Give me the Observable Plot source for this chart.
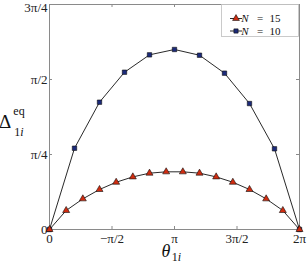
<!DOCTYPE html>
<html><head><meta charset="utf-8">
<script src="https://cdn.jsdelivr.net/npm/d3@7"></script>
<script src="https://cdn.jsdelivr.net/npm/@observablehq/plot@0.6"></script>
<style>body{margin:0;background:#fff} svg{display:block}</style>
</head><body><div id="chart"></div>
<script>
const PI = Math.PI;
// x positions in units of π
const thetaN10 = [0, 0.2, 0.4, 0.6, 0.8, 1.0, 1.2, 1.4, 1.6, 1.8, 2.0];
const deltaN10 = [0, 0.851, 1.333, 1.647, 1.829, 1.885, 1.825, 1.637, 1.319, 0.845, 0];
const thetaN15 = [0, 0.1333, 0.2667, 0.4, 0.5333, 0.6667, 0.8, 0.9333, 1.0667, 1.2, 1.3333, 1.4667, 1.6, 1.7333, 1.8667, 2.0];
const deltaN15 = [0, 0.199, 0.321, 0.419, 0.495, 0.551, 0.590, 0.604, 0.604, 0.590, 0.551, 0.495, 0.419, 0.321, 0.199, 0];
const xTicks = [0, 0.5, 1, 1.5, 2];
const xTickLabels = ["0", "\u2212\u03c0/2", "\u03c0", "3\u03c0/2", "2\u03c0"];
const yTicksPi = [0, 0.25, 0.5, 0.75];
const yTickLabels = ["0", "\u03c0/4", "\u03c0/2", "3\u03c0/4"];
const seriesNames = ["N = 15", "N = 10"];

const yTicks = yTicksPi.map(v => v * PI);
const n10 = thetaN10.map((t, i) => ({t, d: deltaN10[i]}));
const n15 = thetaN15.map((t, i) => ({t, d: deltaN15[i]}));
const xLab = new Map(xTicks.map((v, i) => [v, xTickLabels[i]]));
const yLab = new Map(yTicks.map((v, i) => [v, yTickLabels[i]]));
const axisCol = "#8a8a8a";
const red = "#cf2c10", blue = "#1b2a7a";

const plot = Plot.plot({
  width: 307, height: 268,
  marginLeft: 49, marginRight: 8, marginTop: 4, marginBottom: 39,
  style: {fontFamily: "'Liberation Serif', serif", fontSize: "13px", color: "#222", background: "#fff"},
  x: {domain: [0, 2], axis: null},
  y: {domain: [0, 0.75 * PI], axis: null},
  marks: [
    Plot.frame({stroke: axisCol}),
    Plot.tickX(xTicks, {x: d => d, insetTop: 222, stroke: axisCol}),
    Plot.tickX(xTicks, {x: d => d, insetBottom: 222, stroke: axisCol}),
    Plot.tickY(yTicks, {y: d => d, insetRight: 247, stroke: axisCol}),
    Plot.tickY(yTicks, {y: d => d, insetLeft: 247, stroke: axisCol}),
    Plot.axisX(xTicks, {tickSize: 0, tickPadding: 4, tickFormat: d => xLab.get(d), label: null, fontSize: 13}),
    Plot.axisY(yTicks.slice(0, 3), {tickSize: 0, tickPadding: 2, tickFormat: d => yLab.get(d), label: null, fontSize: 13}),
    Plot.axisY(yTicks.slice(3), {tickSize: 0, tickPadding: 2, tickFormat: d => yLab.get(d), label: null, fontSize: 13, dy: 3}),
    Plot.line(n10, {x: "t", y: "d", stroke: "#111", strokeWidth: 0.9}),
    Plot.line(n15, {x: "t", y: "d", stroke: "#111", strokeWidth: 0.9}),
    Plot.dot(n10, {x: "t", y: "d", symbol: "square", r: 2.5, fill: blue, stroke: "#111", strokeWidth: 0.6}),
    Plot.dot(n15, {x: "t", y: "d", symbol: "triangle", r: 2.6, fill: red, stroke: "#111", strokeWidth: 0.6})
  ]
});
document.getElementById("chart").appendChild(plot);

const svg = d3.select(plot);
const serif = "'Liberation Serif', serif";
// y label Δ^eq_{1i}
const yl = svg.append("g").attr("font-family", serif).attr("fill", "#111");
yl.append("text").attr("x", 5).attr("y", 128).attr("font-size", 19).text("\u0394");
yl.append("text").attr("x", 19).attr("y", 115).attr("font-size", 12).text("eq");
const sub = yl.append("text").attr("x", 19).attr("y", 136).attr("font-size", 12);
sub.append("tspan").text("1");
sub.append("tspan").attr("font-style", "italic").text("i");
// x label θ_{1i}
const xl = svg.append("g").attr("font-family", serif).attr("fill", "#111");
xl.append("text").attr("x", 166).attr("y", 257).attr("font-size", 18).attr("font-style", "italic").text("\u03b8");
const xs = xl.append("text").attr("x", 176.5).attr("y", 261).attr("font-size", 12);
xs.append("tspan").text("1");
xs.append("tspan").attr("font-style", "italic").text("i");
// legend
const lg = svg.append("g").attr("font-family", serif).attr("fill", "#111");
lg.append("rect").attr("x", 221.5).attr("y", 4.5).attr("width", 77).attr("height", 32).attr("fill", "#fff").attr("stroke", "#bdbdbd").attr("stroke-width", 0.8);
const rows = [{y: 18.5, sym: d3.symbolTriangle, fill: red, size: 20}, {y: 31, sym: d3.symbolSquare, fill: blue, size: 18}];
rows.forEach((r, i) => {
  lg.append("line").attr("x1", 230).attr("x2", 242).attr("y1", r.y).attr("y2", r.y).attr("stroke", "#111").attr("stroke-width", 0.9);
  lg.append("path").attr("d", d3.symbol(r.sym, r.size)()).attr("transform", `translate(236,${r.y})`).attr("fill", r.fill).attr("stroke", "#111").attr("stroke-width", 0.6);
  const parts = seriesNames[i].split(" ");
  lg.append("text").attr("x", 245).attr("y", r.y + 3.8).attr("font-size", 11).attr("font-style", "italic").text(parts[0]);
  lg.append("text").attr("x", 260).attr("y", r.y + 3.8).attr("font-size", 11).text(parts[1]);
  lg.append("text").attr("x", 275).attr("y", r.y + 3.8).attr("font-size", 11).text(parts[2]);
});
</script>
</body></html>
